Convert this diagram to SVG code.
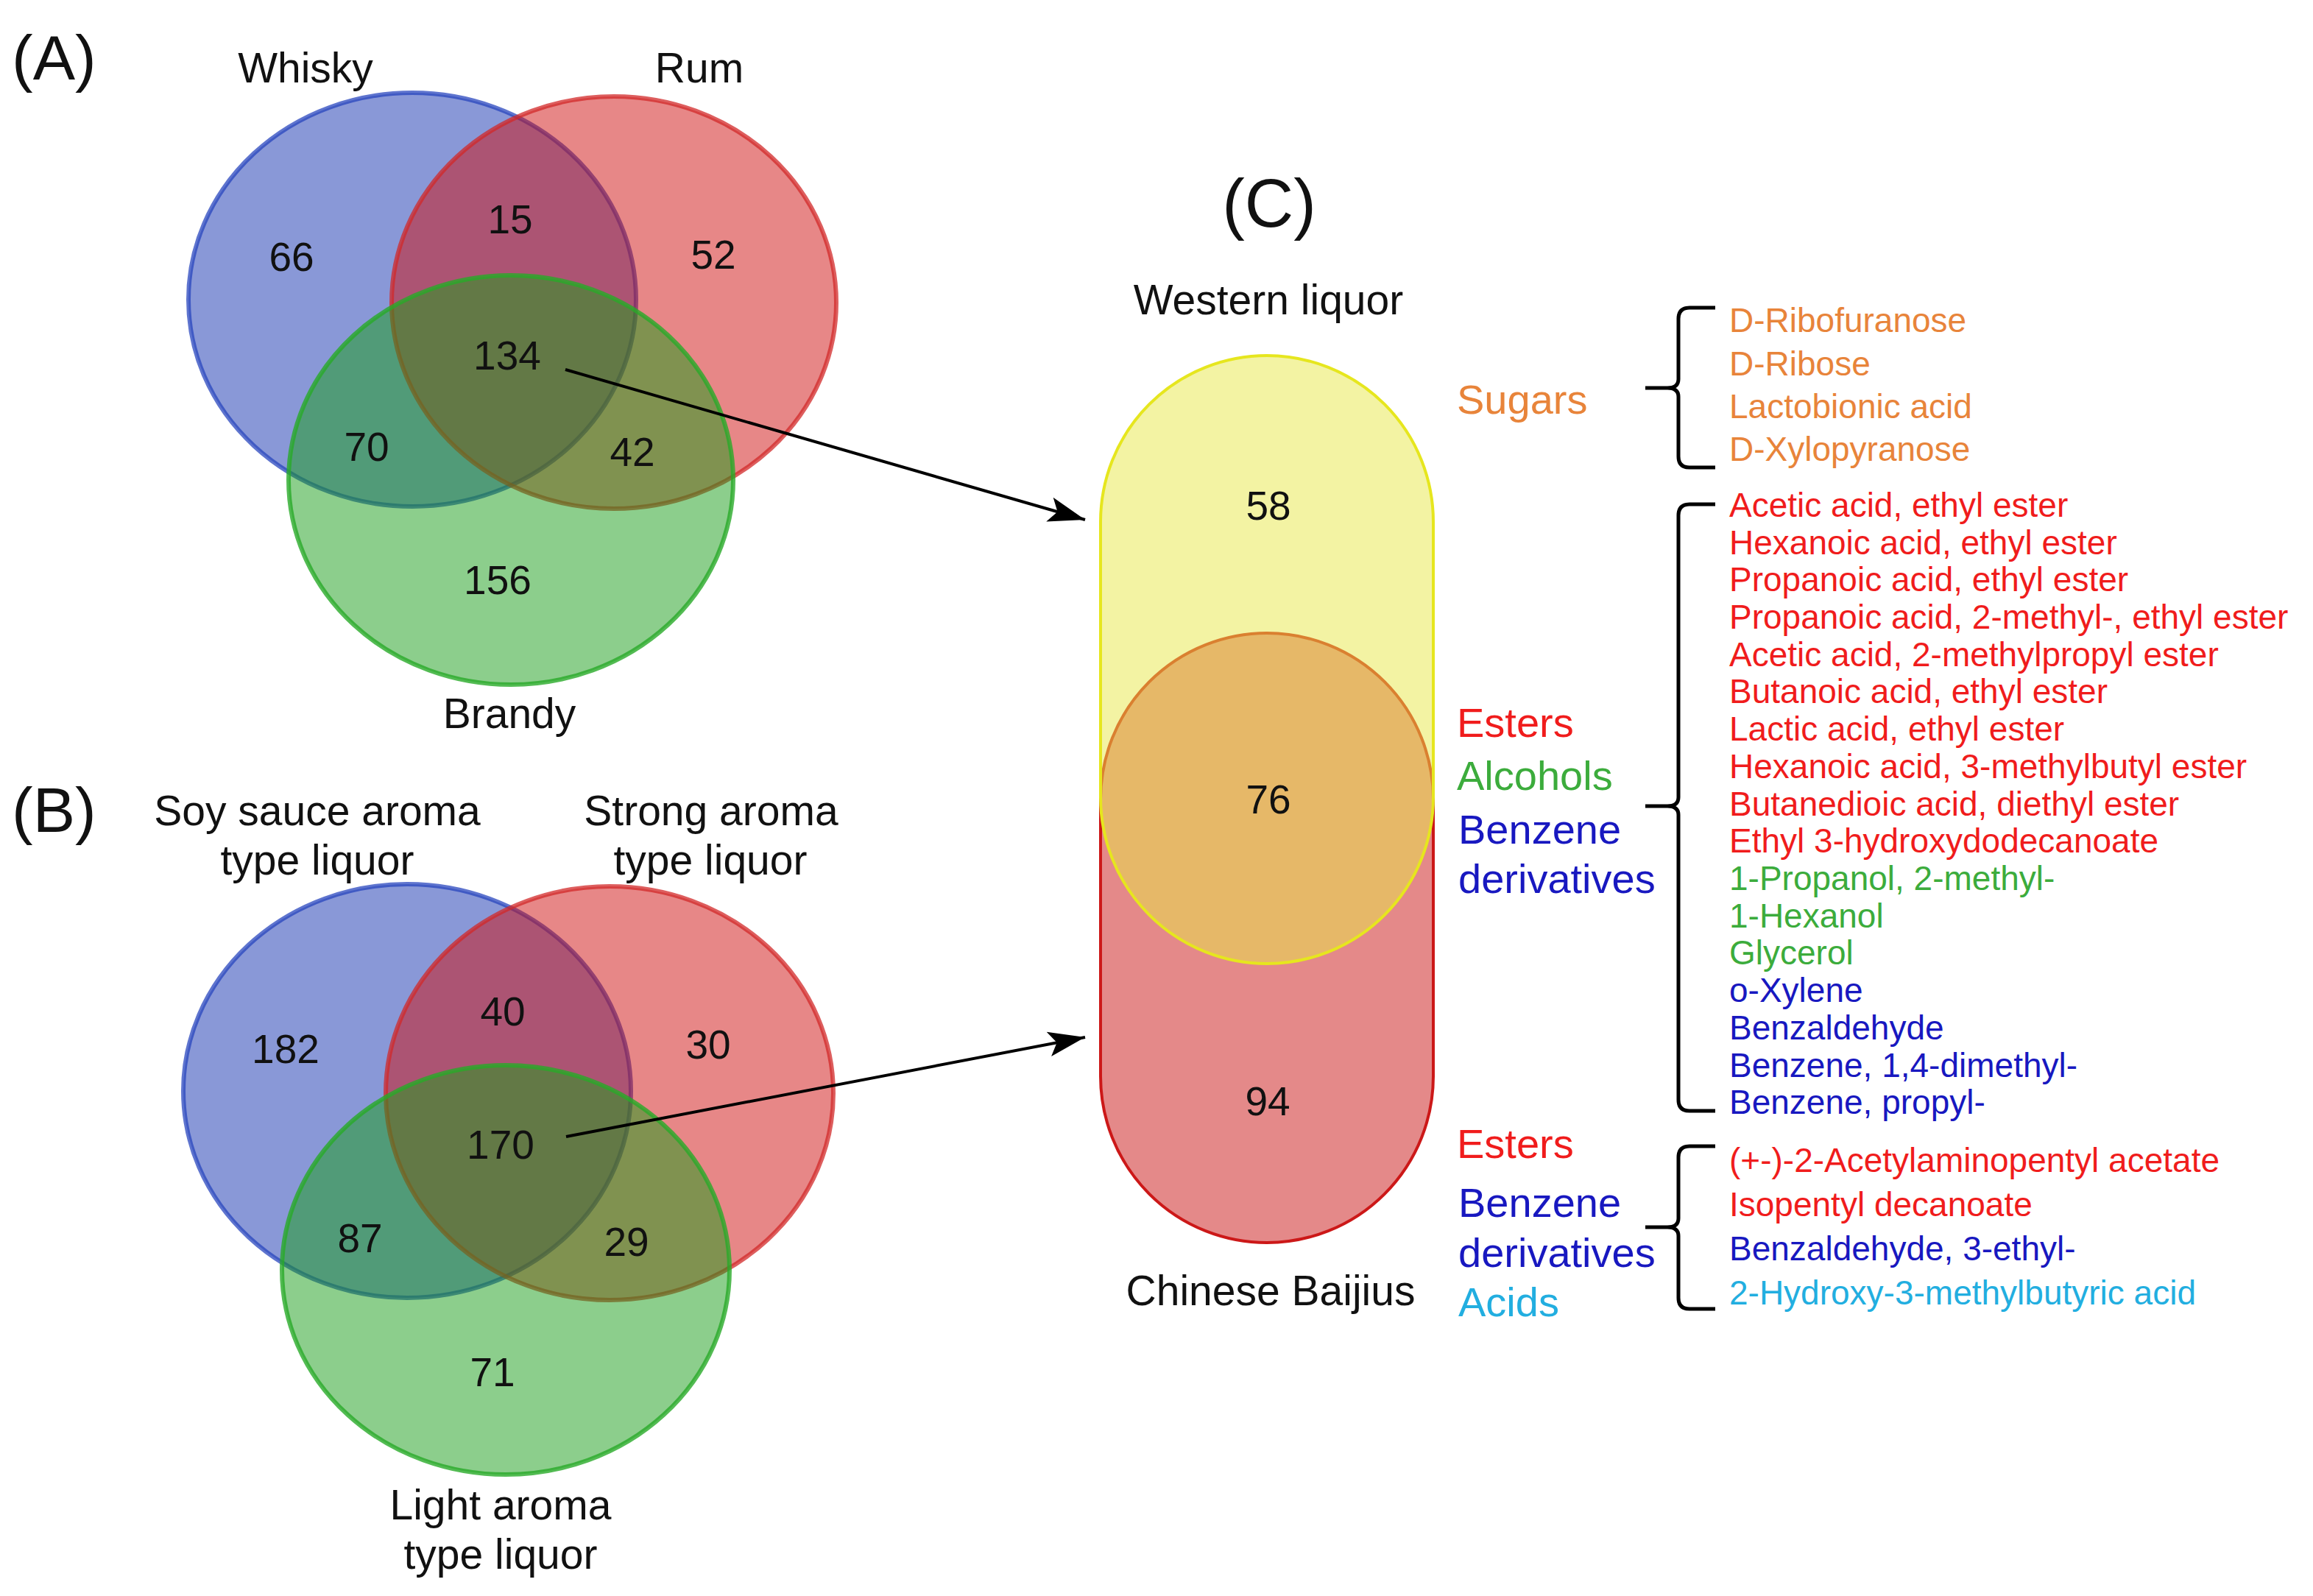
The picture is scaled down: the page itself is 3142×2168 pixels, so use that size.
<svg xmlns="http://www.w3.org/2000/svg" width="3142" height="2168" viewBox="0 0 3142 2168">
<defs>
<style>
text{font-family:"Liberation Sans",Arial,Helvetica,sans-serif;}
.panel{font-size:86px;fill:#111}
.title{font-size:57px;fill:#111;text-anchor:middle}
.num{font-size:55px;fill:#111;text-anchor:middle}
.cnum{font-size:55px;fill:#111;text-anchor:middle}
.cat{font-size:56px}
.item{font-size:46px}
.blue{fill:rgb(20,50,175);fill-opacity:.5;stroke:rgb(40,70,190);stroke-opacity:.75;stroke-width:6}
.red{fill:rgb(208,16,16);fill-opacity:.5;stroke:rgb(210,40,40);stroke-opacity:.75;stroke-width:6}
.green{fill:rgb(26,158,26);fill-opacity:.5;stroke:rgb(40,170,40);stroke-opacity:.8;stroke-width:6}
.ystad{fill:rgb(231,231,71);fill-opacity:.5;stroke:#e6e61e;stroke-width:4}
.rstad{fill:rgb(202,20,20);fill-opacity:.5;stroke:#cc1818;stroke-width:4}
.sug{fill:#e8843a}
.est{fill:#f01c1c}
.alc{fill:#3cac3c}
.ben{fill:#1818c0}
.acd{fill:#22aee0}
.conn{stroke:#000;stroke-width:4;fill:none}
.brace{stroke:#000;stroke-width:5;fill:none}
</style>
<marker id="arrow" markerUnits="userSpaceOnUse" markerWidth="54" markerHeight="38" refX="50" refY="19" orient="auto">
<path d="M0,2 L50,19 L0,36 L11,19 Z" fill="#000"/>
</marker>
</defs>
<rect width="3142" height="2168" fill="#fff"/>

<g id="panel-a">
<text class="panel" x="16" y="108">(A)</text>
<g id="a-whisky"><ellipse class="blue" cx="560" cy="407" rx="304" ry="281"/><text class="title" x="415" y="112">Whisky</text></g>
<g id="a-rum"><ellipse class="red" cx="834" cy="411" rx="302" ry="280"/><text class="title" x="950" y="112">Rum</text></g>
<g id="a-brandy"><ellipse class="green" cx="694" cy="652" rx="302" ry="278"/><text class="title" x="692" y="989">Brandy</text></g>
<g id="a-counts">
<text class="num" x="396" y="368">66</text>
<text class="num" x="693" y="317">15</text>
<text class="num" x="969" y="365">52</text>
<text class="num" x="689" y="502">134</text>
<text class="num" x="498" y="626">70</text>
<text class="num" x="859" y="633">42</text>
<text class="num" x="676" y="807">156</text>
</g>
</g>

<g id="panel-b">
<text class="panel" x="16" y="1130">(B)</text>
<g id="b-soy"><ellipse class="blue" cx="553" cy="1482" rx="304" ry="281"/><text class="title" x="431" y="1121">Soy sauce aroma</text><text class="title" x="431" y="1188">type liquor</text></g>
<g id="b-strong"><ellipse class="red" cx="828" cy="1485" rx="304" ry="281"/><text class="title" x="966" y="1121">Strong aroma</text><text class="title" x="965" y="1188">type liquor</text></g>
<g id="b-light"><ellipse class="green" cx="687" cy="1725" rx="304" ry="278"/><text class="title" x="680" y="2064">Light aroma</text><text class="title" x="680" y="2131">type liquor</text></g>
<g id="b-counts">
<text class="num" x="388" y="1444">182</text>
<text class="num" x="683" y="1393">40</text>
<text class="num" x="962" y="1438">30</text>
<text class="num" x="680" y="1574">170</text>
<text class="num" x="489" y="1701">87</text>
<text class="num" x="851" y="1706">29</text>
<text class="num" x="669" y="1883">71</text>
</g>
</g>

<g id="panel-c">
<text class="panel" x="1724" y="308" style="font-size:92px;text-anchor:middle">(C)</text>
<g id="c-baijiu"><rect class="rstad" x="1495" y="860" width="452" height="828" rx="226" ry="226"/><text class="title" x="1726" y="1773">Chinese Baijius</text></g>
<g id="c-western"><rect class="ystad" x="1495" y="483" width="452" height="826" rx="226" ry="226"/><text class="title" x="1723" y="427">Western liquor</text></g>
<g id="c-counts">
<text class="cnum" x="1723" y="706">58</text>
<text class="cnum" x="1723" y="1105">76</text>
<text class="cnum" x="1722" y="1515">94</text>
</g>
</g>

<g id="connectors">
<path class="conn" d="M768,502 L1474,706" marker-end="url(#arrow)"/>
<path class="conn" d="M769,1544 L1474,1409" marker-end="url(#arrow)"/>
</g>

<g id="categories">
<text class="cat sug" x="1979" y="562">Sugars</text>
<text class="cat est" x="1979" y="1001">Esters</text>
<text class="cat alc" x="1979" y="1073">Alcohols</text>
<text class="cat ben" x="1981" y="1146">Benzene</text>
<text class="cat ben" x="1981" y="1213">derivatives</text>
<text class="cat est" x="1979" y="1573">Esters</text>
<text class="cat ben" x="1981" y="1653">Benzene</text>
<text class="cat ben" x="1981" y="1721">derivatives</text>
<text class="cat acd" x="1981" y="1788">Acids</text>
</g>

<g id="braces">
<path class="brace" d="M2330,418 H2295 Q2280,418 2280,433 V515 Q2280,527 2265,527 H2235 M2265,527 Q2280,527 2280,539 V620 Q2280,635 2295,635 H2330"/>
<path class="brace" d="M2330,685 H2295 Q2280,685 2280,700 V1083 Q2280,1095 2265,1095 H2235 M2265,1095 Q2280,1095 2280,1107 V1494 Q2280,1509 2295,1509 H2330"/>
<path class="brace" d="M2330,1557 H2295 Q2280,1557 2280,1572 V1655 Q2280,1667 2265,1667 H2235 M2265,1667 Q2280,1667 2280,1679 V1763 Q2280,1778 2295,1778 H2330"/>
</g>

<g id="compound-lists">
<g id="list-sugars" class="sug">
<text class="item" x="2349" y="451">D-Ribofuranose</text>
<text class="item" x="2349" y="510">D-Ribose</text>
<text class="item" x="2349" y="568">Lactobionic acid</text>
<text class="item" x="2349" y="626">D-Xylopyranose</text>
</g>
<g id="list-shared">
<text class="item est" x="2349" y="702">Acetic acid, ethyl ester</text>
<text class="item est" x="2349" y="753">Hexanoic acid, ethyl ester</text>
<text class="item est" x="2349" y="803">Propanoic acid, ethyl ester</text>
<text class="item est" x="2349" y="854">Propanoic acid, 2-methyl-, ethyl ester</text>
<text class="item est" x="2349" y="905">Acetic acid, 2-methylpropyl ester</text>
<text class="item est" x="2349" y="955">Butanoic acid, ethyl ester</text>
<text class="item est" x="2349" y="1006">Lactic acid, ethyl ester</text>
<text class="item est" x="2349" y="1057">Hexanoic acid, 3-methylbutyl ester</text>
<text class="item est" x="2349" y="1108">Butanedioic acid, diethyl ester</text>
<text class="item est" x="2349" y="1158">Ethyl 3-hydroxydodecanoate</text>
<text class="item alc" x="2349" y="1209">1-Propanol, 2-methyl-</text>
<text class="item alc" x="2349" y="1260">1-Hexanol</text>
<text class="item alc" x="2349" y="1310">Glycerol</text>
<text class="item ben" x="2349" y="1361">o-Xylene</text>
<text class="item ben" x="2349" y="1412">Benzaldehyde</text>
<text class="item ben" x="2349" y="1463">Benzene, 1,4-dimethyl-</text>
<text class="item ben" x="2349" y="1513">Benzene, propyl-</text>
</g>
<g id="list-baijiu">
<text class="item est" x="2349" y="1592">(+-)-2-Acetylaminopentyl acetate</text>
<text class="item est" x="2349" y="1652">Isopentyl decanoate</text>
<text class="item ben" x="2349" y="1712">Benzaldehyde, 3-ethyl-</text>
<text class="item acd" x="2349" y="1772">2-Hydroxy-3-methylbutyric acid</text>
</g>
</g>
</svg>
